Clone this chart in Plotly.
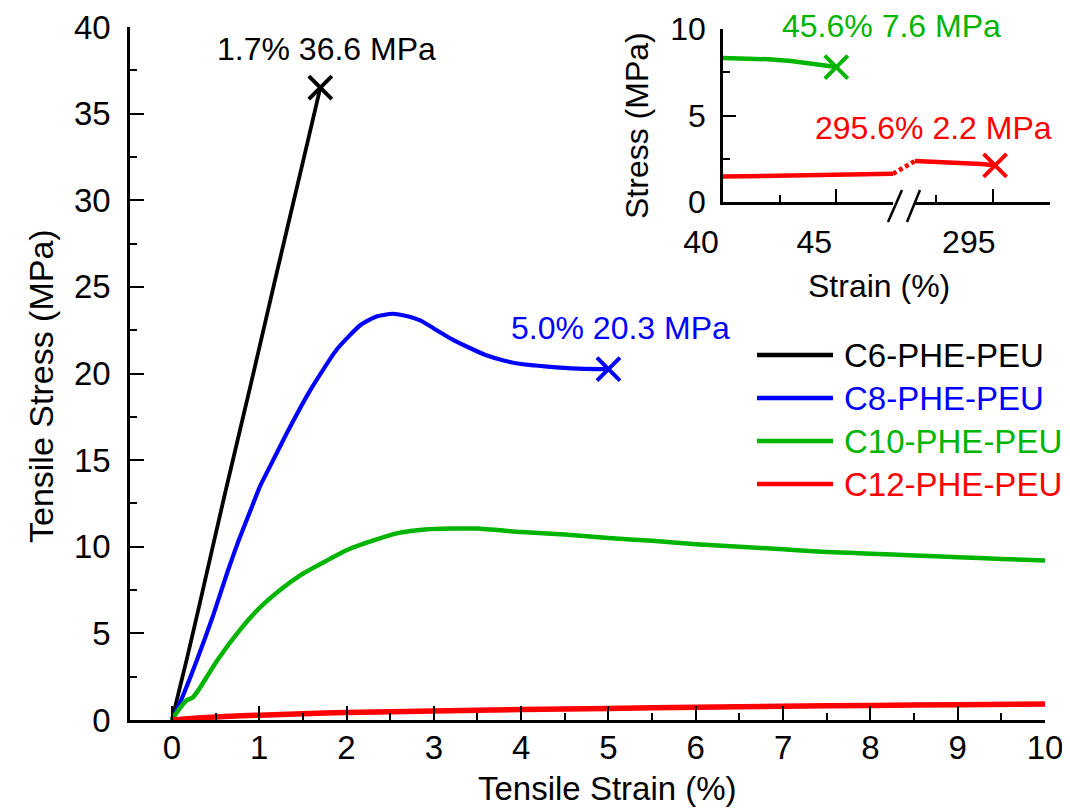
import plotly.graph_objects as go

# ---------------- data ----------------
names = ["C6-PHE-PEU", "C8-PHE-PEU", "C10-PHE-PEU", "C12-PHE-PEU"]
colors = ["#000000", "#0000FF", "#00B400", "#FF0000"]

c6_x = [0, 0.17, 0.32, 0.6, 0.9, 1.2, 1.5, 1.7]
c6_y = [0, 3.5, 6.75, 12.9, 19.3, 25.8, 32.2, 36.5]

c8_x = [0, 0.11, 0.29, 0.47, 0.64, 0.76, 0.9, 1.01, 1.15, 1.32, 1.58, 1.89, 2.16, 2.35, 2.53,
        2.70, 2.85, 3.0, 3.2, 3.4, 3.6, 3.8, 4.0, 4.3, 4.65, 5.0]
c8_y = [0, 1.2, 3.5, 6.0, 8.6, 10.3, 12.1, 13.5, 14.9, 16.6, 19.0, 21.4, 22.8, 23.3, 23.45,
        23.3, 23.05, 22.6, 22.0, 21.5, 21.05, 20.75, 20.55, 20.4, 20.28, 20.25]

c10_x = [0, 0.05, 0.17, 0.24, 0.32, 0.52, 0.78, 1.0, 1.25, 1.47, 1.7, 2.0, 2.3,
         2.6, 2.9, 3.2, 3.5, 4.0, 4.5, 5.0, 5.5, 6.0, 6.5, 7.0, 7.5, 8.0, 8.5, 9.0, 9.5, 10.0]
c10_y = [0, 0.4, 1.15, 1.3, 1.85, 3.45, 5.2, 6.45, 7.55, 8.35, 9.0, 9.8, 10.35,
         10.8, 11.0, 11.05, 11.05, 10.85, 10.7, 10.5, 10.35, 10.15, 10.0, 9.85, 9.7,
         9.6, 9.5, 9.4, 9.3, 9.2]

c12_x = [0, 0.3, 0.6, 1.0, 1.5, 2.0, 3.0, 4.0, 5.0, 6.0, 7.0, 8.0, 9.0, 10.0]
c12_y = [0, 0.12, 0.2, 0.28, 0.36, 0.43, 0.52, 0.6, 0.67, 0.73, 0.79, 0.84, 0.88, 0.93]

# break points (visual positions of the crosses)
c6_break = (1.7, 36.5)
c8_break = (5.0, 20.25)

# inset data
in_c10_x = [40, 41, 42, 43, 44, 45.0]
in_c10_y = [8.32, 8.3, 8.25, 8.15, 8.0, 7.8]
in_c12_left_x = [40, 42, 44, 46, 47.2, 47.5]
in_c12_left_y = [1.47, 1.5, 1.52, 1.55, 1.58, 1.63]
in_c12_right_x = [291.6, 292.5, 293.5, 294.5, 295.1]
in_c12_right_y = [2.37, 2.33, 2.27, 2.2, 2.12]
in_c10_break = (45.0, 7.8)
in_c12_break = (295.1, 2.12)

labels_main = ["1.7% 36.6 MPa", "5.0% 20.3 MPa"]
labels_inset = ["45.6% 7.6 MPa", "295.6% 2.2 MPa"]

# ---------------- helpers ----------------
OFF = 8  # page body margin
W, H = 1070 - OFF, 808 - OFF
def px(x):
    return (x - OFF) / W
def py(y):
    return 1 - (y - OFF) / H

FONT = "Arial, Liberation Sans, sans-serif"
AX = dict(showline=True, linecolor="black", linewidth=2.5, showgrid=False, zeroline=False,
          ticks="inside", tickwidth=2, tickcolor="black", mirror=False, automargin=False,
          tickfont=dict(family=FONT, size=32, color="black"))
MINOR = dict(ticks="inside", ticklen=7, tickwidth=2, tickcolor="black")

fig = go.Figure()

# main curves
main_sets = [(c6_x, c6_y, 3.8), (c8_x, c8_y, 4.2), (c10_x, c10_y, 4.5), (c12_x, c12_y, 5.5)]
for (xs, ys, w), nm, col in zip(main_sets, names, colors):
    fig.add_trace(go.Scatter(x=xs, y=ys, mode="lines", name=nm,
                             line=dict(color=col, width=w, shape="spline", smoothing=0.5),
                             xaxis="x", yaxis="y", showlegend=False))

CROSS = dict(symbol="x-thin", size=23)
for (bx, by), col in [(c6_break, colors[0]), (c8_break, colors[1])]:
    fig.add_trace(go.Scatter(x=[bx], y=[by], mode="markers", showlegend=False,
                             marker=dict(CROSS, line=dict(color=col, width=4)),
                             xaxis="x", yaxis="y"))

# inset curves
fig.add_trace(go.Scatter(x=in_c10_x, y=in_c10_y, mode="lines", line=dict(color=colors[2], width=4.5),
                         xaxis="x2", yaxis="y2", showlegend=False))
fig.add_trace(go.Scatter(x=in_c12_left_x, y=in_c12_left_y, mode="lines", line=dict(color=colors[3], width=4.5),
                         xaxis="x2", yaxis="y2", showlegend=False))
fig.add_trace(go.Scatter(x=in_c12_right_x, y=in_c12_right_y, mode="lines", line=dict(color=colors[3], width=4.5),
                         xaxis="x3", yaxis="y2", showlegend=False))
# dotted connector across the break
fig.add_trace(go.Scatter(x=[in_c12_left_x[-1], in_c12_right_x[0]], y=[in_c12_left_y[-1], in_c12_right_y[0]],
                         mode="lines", line=dict(color=colors[3], width=4.5, dash="4px,3px"),
                         xaxis="x4", yaxis="y2", showlegend=False))
fig.add_trace(go.Scatter(x=[in_c10_break[0]], y=[in_c10_break[1]], mode="markers", showlegend=False,
                         marker=dict(CROSS, line=dict(color=colors[2], width=4)),
                         xaxis="x2", yaxis="y2"))
fig.add_trace(go.Scatter(x=[in_c12_break[0]], y=[in_c12_break[1]], mode="markers", showlegend=False,
                         marker=dict(CROSS, line=dict(color=colors[3], width=4)),
                         xaxis="x3", yaxis="y2"))

layout = dict(
    width=W, height=H, margin=dict(l=0, r=0, t=0, b=0, autoexpand=False),
    paper_bgcolor="white", plot_bgcolor="rgba(0,0,0,0)", showlegend=False,
    font=dict(family=FONT, color="black"),
    xaxis=dict(AX, domain=[px(130), px(1045)], range=[-0.48, 10], dtick=1, tick0=0, ticklen=14,
               minor=dict(MINOR, dtick=0.5, tick0=0), anchor="y", ticklabelstandoff=-3,
               tickfont=dict(family=FONT, size=33, color="black")),
    yaxis=dict(AX, domain=[py(720), py(27)], range=[0, 40], dtick=5, tick0=0, ticklen=14,
               minor=dict(MINOR, dtick=2.5, tick0=0), anchor="x", ticklabelstandoff=10,
               tickfont=dict(family=FONT, size=33, color="black")),
    xaxis2=dict(AX, domain=[px(723), px(893)], range=[40, 47.5], dtick=5, tick0=40, ticklen=13,
                minor=dict(MINOR, dtick=2.5, tick0=40), anchor="y2", ticklabelshift=-22, ticklabelstandoff=10),
    xaxis3=dict(AX, domain=[px(915), px(1050)], range=[291.6, 297.5], tickvals=[295], ticklen=13,
                minor=dict(MINOR, dtick=2.5, tick0=290), anchor="y2", ticklabelshift=-24, ticklabelstandoff=10),
    xaxis4=dict(domain=[px(893), px(915)], range=[in_c12_left_x[-1], in_c12_right_x[0]], visible=False,
                anchor="y2", automargin=False),
    yaxis2=dict(AX, domain=[py(202), py(29)], range=[0, 10], dtick=5, tick0=0, ticklen=13,
                minor=dict(MINOR, dtick=2.5, tick0=0), anchor="x2", ticklabelstandoff=8),
)
fig.update_layout(**layout)

def note(text, x, y, size, color="black", angle=0, xanchor="center"):
    return dict(text=text, x=px(x), y=py(y), xref="paper", yref="paper", showarrow=False,
                textangle=angle, xanchor=xanchor, yanchor="middle",
                font=dict(family=FONT, size=size, color=color))

ann = [
    note("Tensile Strain (%)", 607, 788, 33),
    note("Tensile Stress (MPa)", 41, 386, 34, angle=-90),
    note("Strain (%)", 879, 286, 32),
    note("Stress (MPa)", 637, 126, 32, angle=-90),
    note(labels_main[0], 326, 49, 32, colors[0]),
    note(labels_main[1], 620, 328, 32, colors[1]),
    note(labels_inset[0], 891, 26, 32, colors[2]),
    note(labels_inset[1], 933, 128, 32, colors[3]),
]

shapes = []
# legend (manual)
leg_rows = [355, 398, 441, 484]
for nm, col, ry in zip(names, colors, leg_rows):
    shapes.append(dict(type="line", xref="paper", yref="paper", x0=px(757), x1=px(833), y0=py(ry), y1=py(ry),
                       line=dict(color=col, width=4.5)))
    ann.append(note(nm, 842, ry, 33, col, xanchor="left"))
# axis break marks
for (x0, y0, x1, y1) in [(888, 222, 902, 190), (907, 222, 920, 190)]:
    shapes.append(dict(type="line", xref="paper", yref="paper", x0=px(x0), y0=py(y0), x1=px(x1), y1=py(y1),
                       line=dict(color="black", width=2.5)))
fig.update_layout(annotations=ann, shapes=shapes)

fig.write_html("out.html")
